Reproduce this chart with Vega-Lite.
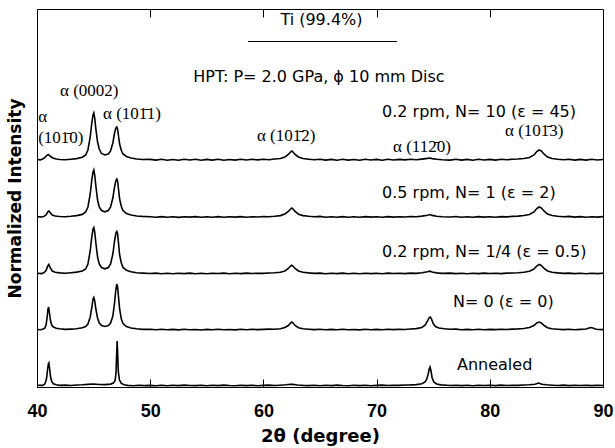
{
  "$schema": "https://vega.github.io/schema/vega-lite/v6.json",
  "width": 566,
  "height": 378,
  "autosize": "none",
  "padding": {"left": 37, "top": 9, "right": 12, "bottom": 61},
  "config": {"view": {"stroke": "black", "strokeWidth": 1}, "axis": {"grid": false, "domain": false}},
  "datasets": {
    "tr": [
      {"s":"A","t":40.0,"i":1.8},{"s":"A","t":40.5,"i":1.6},{"s":"A","t":40.65,"i":2.6},{"s":"A","t":40.75,"i":4.5},{"s":"A","t":40.85,"i":9},{"s":"A","t":40.93,"i":17},{"s":"A","t":41.0,"i":23},{"s":"A","t":41.05,"i":24},{"s":"A","t":41.12,"i":18},{"s":"A","t":41.2,"i":10},{"s":"A","t":41.3,"i":5.5},{"s":"A","t":41.45,"i":3.2},{"s":"A","t":41.7,"i":2.2},{"s":"A","t":42.0,"i":1.6},{"s":"A","t":42.5,"i":1.9},{"s":"A","t":43.0,"i":1.5},{"s":"A","t":43.5,"i":2.0},{"s":"A","t":44.0,"i":2.2},{"s":"A","t":44.5,"i":2.6},{"s":"A","t":45.0,"i":3.0},{"s":"A","t":45.5,"i":2.5},{"s":"A","t":46.0,"i":2.4},{"s":"A","t":46.5,"i":2.9},{"s":"A","t":46.75,"i":4.0},{"s":"A","t":46.9,"i":6.5},{"s":"A","t":46.98,"i":14},{"s":"A","t":47.04,"i":34},{"s":"A","t":47.08,"i":46},{"s":"A","t":47.12,"i":36},{"s":"A","t":47.18,"i":16},{"s":"A","t":47.28,"i":7},{"s":"A","t":47.45,"i":3.6},{"s":"A","t":47.7,"i":2.2},{"s":"A","t":48.0,"i":1.6},{"s":"A","t":48.5,"i":1.3},{"s":"A","t":49.0,"i":1.8},{"s":"A","t":49.5,"i":1.4},{"s":"A","t":50.0,"i":1.6},{"s":"A","t":50.5,"i":1.2},{"s":"A","t":51.0,"i":1.7},{"s":"A","t":51.5,"i":1.3},{"s":"A","t":52.0,"i":1.8},{"s":"A","t":52.5,"i":1.4},{"s":"A","t":53.0,"i":1.9},{"s":"A","t":53.5,"i":1.5},{"s":"A","t":54.0,"i":1.4},{"s":"A","t":54.5,"i":1.8},{"s":"A","t":55.0,"i":1.3},{"s":"A","t":55.5,"i":1.7},{"s":"A","t":56.0,"i":1.4},{"s":"A","t":56.5,"i":1.9},{"s":"A","t":57.0,"i":1.5},{"s":"A","t":57.5,"i":1.3},{"s":"A","t":58.0,"i":1.8},{"s":"A","t":58.5,"i":1.4},{"s":"A","t":59.0,"i":1.7},{"s":"A","t":59.5,"i":1.3},{"s":"A","t":60.0,"i":1.6},{"s":"A","t":60.5,"i":1.9},{"s":"A","t":61.0,"i":1.5},{"s":"A","t":61.5,"i":1.8},{"s":"A","t":62.0,"i":2.2},{"s":"A","t":62.4,"i":2.8},{"s":"A","t":62.6,"i":2.6},{"s":"A","t":63.0,"i":2.0},{"s":"A","t":63.5,"i":1.6},{"s":"A","t":64.0,"i":1.4},{"s":"A","t":64.5,"i":1.8},{"s":"A","t":65.0,"i":1.3},{"s":"A","t":65.5,"i":1.7},{"s":"A","t":66.0,"i":1.4},{"s":"A","t":66.5,"i":1.9},{"s":"A","t":67.0,"i":1.5},{"s":"A","t":67.5,"i":1.3},{"s":"A","t":68.0,"i":1.8},{"s":"A","t":68.5,"i":1.4},{"s":"A","t":69.0,"i":1.7},{"s":"A","t":69.5,"i":1.3},{"s":"A","t":70.0,"i":1.6},{"s":"A","t":70.5,"i":1.9},{"s":"A","t":71.0,"i":1.5},{"s":"A","t":71.5,"i":1.8},{"s":"A","t":72.0,"i":1.6},{"s":"A","t":72.5,"i":2.0},{"s":"A","t":73.0,"i":2.1},{"s":"A","t":73.5,"i":2.4},{"s":"A","t":74.0,"i":3.2},{"s":"A","t":74.25,"i":4.8},{"s":"A","t":74.4,"i":7},{"s":"A","t":74.55,"i":12.5},{"s":"A","t":74.65,"i":18},{"s":"A","t":74.72,"i":20},{"s":"A","t":74.8,"i":16.5},{"s":"A","t":74.9,"i":9.5},{"s":"A","t":75.05,"i":5},{"s":"A","t":75.3,"i":3},{"s":"A","t":75.7,"i":2.1},{"s":"A","t":76.2,"i":1.7},{"s":"A","t":76.5,"i":1.5},{"s":"A","t":77.0,"i":1.8},{"s":"A","t":77.5,"i":1.4},{"s":"A","t":78.0,"i":1.7},{"s":"A","t":78.5,"i":1.3},{"s":"A","t":79.0,"i":1.8},{"s":"A","t":79.5,"i":1.5},{"s":"A","t":80.0,"i":1.7},{"s":"A","t":80.5,"i":1.4},{"s":"A","t":81.0,"i":1.9},{"s":"A","t":81.5,"i":1.5},{"s":"A","t":82.0,"i":1.8},{"s":"A","t":82.5,"i":1.6},{"s":"A","t":83.0,"i":2.0},{"s":"A","t":83.5,"i":2.3},{"s":"A","t":84.0,"i":2.8},{"s":"A","t":84.3,"i":4.0},{"s":"A","t":84.6,"i":2.8},{"s":"A","t":85.0,"i":2.2},{"s":"A","t":85.5,"i":1.8},{"s":"A","t":86.0,"i":1.5},{"s":"A","t":86.5,"i":1.9},{"s":"A","t":87.0,"i":1.4},{"s":"A","t":87.5,"i":1.8},{"s":"A","t":88.0,"i":1.5},{"s":"A","t":88.5,"i":1.7},{"s":"A","t":89.0,"i":1.4},{"s":"A","t":89.5,"i":1.8},{"s":"A","t":90.0,"i":1.5},

      {"s":"N0","t":40.0,"i":57.5},{"s":"N0","t":40.3,"i":57.2},{"s":"N0","t":40.5,"i":57.8},{"s":"N0","t":40.7,"i":59},{"s":"N0","t":40.8,"i":62},{"s":"N0","t":40.9,"i":70},{"s":"N0","t":40.97,"i":78},{"s":"N0","t":41.03,"i":80},{"s":"N0","t":41.1,"i":74},{"s":"N0","t":41.2,"i":66},{"s":"N0","t":41.3,"i":62},{"s":"N0","t":41.45,"i":60},{"s":"N0","t":41.7,"i":58.7},{"s":"N0","t":42.0,"i":58.2},{"s":"N0","t":42.5,"i":57.6},{"s":"N0","t":43.0,"i":57.9},{"s":"N0","t":43.5,"i":58.3},{"s":"N0","t":44.0,"i":59.2},{"s":"N0","t":44.3,"i":60.5},{"s":"N0","t":44.5,"i":63},{"s":"N0","t":44.7,"i":70},{"s":"N0","t":44.85,"i":80},{"s":"N0","t":44.95,"i":88},{"s":"N0","t":45.02,"i":89.5},{"s":"N0","t":45.1,"i":86},{"s":"N0","t":45.2,"i":78},{"s":"N0","t":45.35,"i":69},{"s":"N0","t":45.5,"i":64},{"s":"N0","t":45.7,"i":61.5},{"s":"N0","t":46.0,"i":60.5},{"s":"N0","t":46.3,"i":61.5},{"s":"N0","t":46.5,"i":64},{"s":"N0","t":46.7,"i":71},{"s":"N0","t":46.85,"i":84},{"s":"N0","t":46.97,"i":98},{"s":"N0","t":47.05,"i":103},{"s":"N0","t":47.12,"i":100},{"s":"N0","t":47.2,"i":90},{"s":"N0","t":47.3,"i":78},{"s":"N0","t":47.45,"i":68},{"s":"N0","t":47.6,"i":63.5},{"s":"N0","t":47.9,"i":60.5},{"s":"N0","t":48.3,"i":59},{"s":"N0","t":48.8,"i":58.2},{"s":"N0","t":49.3,"i":57.6},{"s":"N0","t":50.0,"i":57.8},{"s":"N0","t":50.5,"i":57.3},{"s":"N0","t":51.0,"i":57.7},{"s":"N0","t":51.5,"i":57.2},{"s":"N0","t":52.0,"i":57.6},{"s":"N0","t":52.5,"i":57.1},{"s":"N0","t":53.0,"i":57.8},{"s":"N0","t":53.5,"i":57.3},{"s":"N0","t":54.0,"i":57.5},{"s":"N0","t":54.5,"i":57.0},{"s":"N0","t":55.0,"i":57.6},{"s":"N0","t":55.5,"i":57.2},{"s":"N0","t":56.0,"i":57.8},{"s":"N0","t":56.5,"i":57.3},{"s":"N0","t":57.0,"i":57.5},{"s":"N0","t":57.5,"i":57.1},{"s":"N0","t":58.0,"i":57.7},{"s":"N0","t":58.5,"i":57.3},{"s":"N0","t":59.0,"i":57.8},{"s":"N0","t":59.5,"i":57.4},{"s":"N0","t":60.0,"i":57.6},{"s":"N0","t":60.5,"i":57.9},{"s":"N0","t":61.0,"i":57.8},{"s":"N0","t":61.5,"i":58.3},{"s":"N0","t":61.9,"i":59.5},{"s":"N0","t":62.2,"i":61.5},{"s":"N0","t":62.4,"i":64},{"s":"N0","t":62.5,"i":65},{"s":"N0","t":62.6,"i":64.2},{"s":"N0","t":62.8,"i":61.5},{"s":"N0","t":63.1,"i":59.3},{"s":"N0","t":63.5,"i":58.3},{"s":"N0","t":64.0,"i":57.8},{"s":"N0","t":64.5,"i":57.4},{"s":"N0","t":65.0,"i":57.7},{"s":"N0","t":65.5,"i":57.2},{"s":"N0","t":66.0,"i":57.6},{"s":"N0","t":66.5,"i":57.3},{"s":"N0","t":67.0,"i":57.8},{"s":"N0","t":67.5,"i":57.2},{"s":"N0","t":68.0,"i":57.5},{"s":"N0","t":68.5,"i":57.1},{"s":"N0","t":69.0,"i":57.7},{"s":"N0","t":69.5,"i":57.3},{"s":"N0","t":70.0,"i":57.6},{"s":"N0","t":70.5,"i":57.2},{"s":"N0","t":71.0,"i":57.8},{"s":"N0","t":71.5,"i":57.4},{"s":"N0","t":72.0,"i":57.7},{"s":"N0","t":72.5,"i":57.5},{"s":"N0","t":73.0,"i":58.0},{"s":"N0","t":73.5,"i":58.4},{"s":"N0","t":74.0,"i":59.5},{"s":"N0","t":74.3,"i":62},{"s":"N0","t":74.5,"i":66},{"s":"N0","t":74.65,"i":69.5},{"s":"N0","t":74.75,"i":70},{"s":"N0","t":74.85,"i":68},{"s":"N0","t":75.0,"i":63.5},{"s":"N0","t":75.2,"i":60.5},{"s":"N0","t":75.5,"i":59},{"s":"N0","t":76.0,"i":58.2},{"s":"N0","t":76.5,"i":57.7},{"s":"N0","t":77.0,"i":57.9},{"s":"N0","t":77.5,"i":57.3},{"s":"N0","t":78.0,"i":57.6},{"s":"N0","t":78.5,"i":57.2},{"s":"N0","t":79.0,"i":57.7},{"s":"N0","t":79.5,"i":57.3},{"s":"N0","t":80.0,"i":57.6},{"s":"N0","t":80.5,"i":57.4},{"s":"N0","t":81.0,"i":57.8},{"s":"N0","t":81.5,"i":57.5},{"s":"N0","t":82.0,"i":57.9},{"s":"N0","t":82.5,"i":58.1},{"s":"N0","t":83.0,"i":58.5},{"s":"N0","t":83.5,"i":59.4},{"s":"N0","t":83.9,"i":61.5},{"s":"N0","t":84.15,"i":64},{"s":"N0","t":84.35,"i":65},{"s":"N0","t":84.55,"i":64},{"s":"N0","t":84.8,"i":61.5},{"s":"N0","t":85.1,"i":59.3},{"s":"N0","t":85.5,"i":58.3},{"s":"N0","t":86.0,"i":57.8},{"s":"N0","t":86.5,"i":57.4},{"s":"N0","t":87.0,"i":57.7},{"s":"N0","t":87.5,"i":57.3},{"s":"N0","t":88.0,"i":57.6},{"s":"N0","t":88.5,"i":58},{"s":"N0","t":88.9,"i":59.5},{"s":"N0","t":89.1,"i":59},{"s":"N0","t":89.4,"i":57.7},{"s":"N0","t":90.0,"i":57.4},

      {"s":"Q","t":40.0,"i":113.8},{"s":"Q","t":40.4,"i":113.4},{"s":"Q","t":40.6,"i":114.3},{"s":"Q","t":40.8,"i":116.5},{"s":"Q","t":40.95,"i":121},{"s":"Q","t":41.05,"i":122.5},{"s":"Q","t":41.15,"i":119.5},{"s":"Q","t":41.35,"i":116},{"s":"Q","t":41.6,"i":114.8},{"s":"Q","t":42.0,"i":114.1},{"s":"Q","t":42.5,"i":113.7},{"s":"Q","t":43.0,"i":114.3},{"s":"Q","t":43.5,"i":114.9},{"s":"Q","t":44.0,"i":116},{"s":"Q","t":44.3,"i":118},{"s":"Q","t":44.5,"i":123},{"s":"Q","t":44.7,"i":136},{"s":"Q","t":44.85,"i":151},{"s":"Q","t":44.95,"i":158},{"s":"Q","t":45.02,"i":159.5},{"s":"Q","t":45.1,"i":155},{"s":"Q","t":45.2,"i":144},{"s":"Q","t":45.35,"i":130},{"s":"Q","t":45.5,"i":123},{"s":"Q","t":45.7,"i":119.5},{"s":"Q","t":46.0,"i":118.2},{"s":"Q","t":46.3,"i":119.5},{"s":"Q","t":46.5,"i":123},{"s":"Q","t":46.7,"i":133},{"s":"Q","t":46.85,"i":146},{"s":"Q","t":46.97,"i":154},{"s":"Q","t":47.05,"i":155.5},{"s":"Q","t":47.12,"i":153},{"s":"Q","t":47.2,"i":144},{"s":"Q","t":47.3,"i":132},{"s":"Q","t":47.45,"i":124},{"s":"Q","t":47.6,"i":119.5},{"s":"Q","t":47.9,"i":116.8},{"s":"Q","t":48.3,"i":115.2},{"s":"Q","t":48.8,"i":114.3},{"s":"Q","t":49.3,"i":113.9},{"s":"Q","t":50.0,"i":113.5},{"s":"Q","t":50.5,"i":113.9},{"s":"Q","t":51.0,"i":113.3},{"s":"Q","t":51.5,"i":113.8},{"s":"Q","t":52.0,"i":113.2},{"s":"Q","t":52.5,"i":113.7},{"s":"Q","t":53.0,"i":113.4},{"s":"Q","t":53.5,"i":113.9},{"s":"Q","t":54.0,"i":113.3},{"s":"Q","t":54.5,"i":113.8},{"s":"Q","t":55.0,"i":113.2},{"s":"Q","t":55.5,"i":113.7},{"s":"Q","t":56.0,"i":113.5},{"s":"Q","t":56.5,"i":113.9},{"s":"Q","t":57.0,"i":113.3},{"s":"Q","t":57.5,"i":113.8},{"s":"Q","t":58.0,"i":113.4},{"s":"Q","t":58.5,"i":113.9},{"s":"Q","t":59.0,"i":113.5},{"s":"Q","t":59.5,"i":113.8},{"s":"Q","t":60.0,"i":113.6},{"s":"Q","t":60.5,"i":114.0},{"s":"Q","t":61.0,"i":114.2},{"s":"Q","t":61.5,"i":114.7},{"s":"Q","t":61.9,"i":116},{"s":"Q","t":62.2,"i":118.5},{"s":"Q","t":62.4,"i":121},{"s":"Q","t":62.5,"i":121.8},{"s":"Q","t":62.6,"i":121},{"s":"Q","t":62.8,"i":118.5},{"s":"Q","t":63.1,"i":116},{"s":"Q","t":63.5,"i":114.8},{"s":"Q","t":64.0,"i":114.1},{"s":"Q","t":64.5,"i":113.6},{"s":"Q","t":65.0,"i":113.9},{"s":"Q","t":65.5,"i":113.3},{"s":"Q","t":66.0,"i":113.8},{"s":"Q","t":66.5,"i":113.4},{"s":"Q","t":67.0,"i":113.9},{"s":"Q","t":67.5,"i":113.3},{"s":"Q","t":68.0,"i":113.7},{"s":"Q","t":68.5,"i":113.2},{"s":"Q","t":69.0,"i":113.8},{"s":"Q","t":69.5,"i":113.4},{"s":"Q","t":70.0,"i":113.7},{"s":"Q","t":70.5,"i":113.3},{"s":"Q","t":71.0,"i":113.9},{"s":"Q","t":71.5,"i":113.5},{"s":"Q","t":72.0,"i":113.8},{"s":"Q","t":72.5,"i":113.4},{"s":"Q","t":73.0,"i":113.9},{"s":"Q","t":73.5,"i":113.6},{"s":"Q","t":74.0,"i":114.2},{"s":"Q","t":74.5,"i":115.2},{"s":"Q","t":74.7,"i":115.8},{"s":"Q","t":74.9,"i":115.0},{"s":"Q","t":75.3,"i":114.1},{"s":"Q","t":75.8,"i":113.6},{"s":"Q","t":76.5,"i":113.9},{"s":"Q","t":77.0,"i":113.4},{"s":"Q","t":77.5,"i":113.8},{"s":"Q","t":78.0,"i":113.3},{"s":"Q","t":78.5,"i":113.7},{"s":"Q","t":79.0,"i":113.4},{"s":"Q","t":79.5,"i":113.9},{"s":"Q","t":80.0,"i":113.5},{"s":"Q","t":80.5,"i":113.8},{"s":"Q","t":81.0,"i":113.4},{"s":"Q","t":81.5,"i":113.9},{"s":"Q","t":82.0,"i":114.0},{"s":"Q","t":82.5,"i":114.3},{"s":"Q","t":83.0,"i":114.8},{"s":"Q","t":83.5,"i":115.8},{"s":"Q","t":83.9,"i":118},{"s":"Q","t":84.15,"i":121},{"s":"Q","t":84.35,"i":122.5},{"s":"Q","t":84.55,"i":121.5},{"s":"Q","t":84.8,"i":118.5},{"s":"Q","t":85.1,"i":116},{"s":"Q","t":85.5,"i":114.8},{"s":"Q","t":86.0,"i":114.1},{"s":"Q","t":86.5,"i":113.6},{"s":"Q","t":87.0,"i":113.9},{"s":"Q","t":87.5,"i":113.4},{"s":"Q","t":88.0,"i":113.8},{"s":"Q","t":88.5,"i":113.3},{"s":"Q","t":89.0,"i":113.7},{"s":"Q","t":89.5,"i":113.4},{"s":"Q","t":90.0,"i":113.8},

      {"s":"N1","t":40.0,"i":170.4},{"s":"N1","t":40.4,"i":170.0},{"s":"N1","t":40.6,"i":170.6},{"s":"N1","t":40.8,"i":172},{"s":"N1","t":40.95,"i":175},{"s":"N1","t":41.05,"i":176},{"s":"N1","t":41.15,"i":174.5},{"s":"N1","t":41.35,"i":172},{"s":"N1","t":41.6,"i":171},{"s":"N1","t":42.0,"i":170.5},{"s":"N1","t":42.5,"i":170.2},{"s":"N1","t":43.0,"i":170.7},{"s":"N1","t":43.5,"i":171.4},{"s":"N1","t":44.0,"i":172.6},{"s":"N1","t":44.3,"i":175},{"s":"N1","t":44.5,"i":180},{"s":"N1","t":44.7,"i":193},{"s":"N1","t":44.85,"i":208},{"s":"N1","t":44.95,"i":215},{"s":"N1","t":45.02,"i":217},{"s":"N1","t":45.1,"i":212},{"s":"N1","t":45.2,"i":201},{"s":"N1","t":45.35,"i":187},{"s":"N1","t":45.5,"i":180},{"s":"N1","t":45.7,"i":176.5},{"s":"N1","t":46.0,"i":175.2},{"s":"N1","t":46.3,"i":176.5},{"s":"N1","t":46.5,"i":180},{"s":"N1","t":46.7,"i":189},{"s":"N1","t":46.85,"i":200},{"s":"N1","t":46.97,"i":206.5},{"s":"N1","t":47.05,"i":208},{"s":"N1","t":47.12,"i":206},{"s":"N1","t":47.2,"i":198},{"s":"N1","t":47.3,"i":188},{"s":"N1","t":47.45,"i":180.5},{"s":"N1","t":47.6,"i":176.5},{"s":"N1","t":47.9,"i":173.5},{"s":"N1","t":48.3,"i":172},{"s":"N1","t":48.8,"i":171},{"s":"N1","t":49.3,"i":170.6},{"s":"N1","t":50.0,"i":170.3},{"s":"N1","t":50.5,"i":169.8},{"s":"N1","t":51.0,"i":170.4},{"s":"N1","t":51.5,"i":169.7},{"s":"N1","t":52.0,"i":170.2},{"s":"N1","t":52.5,"i":169.6},{"s":"N1","t":53.0,"i":170.3},{"s":"N1","t":53.5,"i":169.9},{"s":"N1","t":54.0,"i":170.4},{"s":"N1","t":54.5,"i":169.7},{"s":"N1","t":55.0,"i":170.2},{"s":"N1","t":55.5,"i":169.8},{"s":"N1","t":56.0,"i":170.4},{"s":"N1","t":56.5,"i":169.7},{"s":"N1","t":57.0,"i":170.3},{"s":"N1","t":57.5,"i":169.9},{"s":"N1","t":58.0,"i":170.4},{"s":"N1","t":58.5,"i":169.8},{"s":"N1","t":59.0,"i":170.3},{"s":"N1","t":59.5,"i":170.0},{"s":"N1","t":60.0,"i":170.5},{"s":"N1","t":60.5,"i":170.2},{"s":"N1","t":61.0,"i":170.7},{"s":"N1","t":61.5,"i":171.4},{"s":"N1","t":61.9,"i":173},{"s":"N1","t":62.2,"i":175.5},{"s":"N1","t":62.4,"i":178},{"s":"N1","t":62.5,"i":179},{"s":"N1","t":62.6,"i":178.2},{"s":"N1","t":62.8,"i":175.5},{"s":"N1","t":63.1,"i":172.8},{"s":"N1","t":63.5,"i":171.4},{"s":"N1","t":64.0,"i":170.7},{"s":"N1","t":64.5,"i":170.2},{"s":"N1","t":65.0,"i":170.6},{"s":"N1","t":65.5,"i":169.8},{"s":"N1","t":66.0,"i":170.3},{"s":"N1","t":66.5,"i":169.7},{"s":"N1","t":67.0,"i":170.4},{"s":"N1","t":67.5,"i":169.8},{"s":"N1","t":68.0,"i":170.2},{"s":"N1","t":68.5,"i":169.7},{"s":"N1","t":69.0,"i":170.4},{"s":"N1","t":69.5,"i":169.9},{"s":"N1","t":70.0,"i":170.3},{"s":"N1","t":70.5,"i":169.7},{"s":"N1","t":71.0,"i":170.4},{"s":"N1","t":71.5,"i":169.9},{"s":"N1","t":72.0,"i":170.3},{"s":"N1","t":72.5,"i":170.0},{"s":"N1","t":73.0,"i":170.5},{"s":"N1","t":73.5,"i":170.3},{"s":"N1","t":74.0,"i":170.9},{"s":"N1","t":74.5,"i":171.8},{"s":"N1","t":74.7,"i":172.4},{"s":"N1","t":74.9,"i":171.6},{"s":"N1","t":75.3,"i":170.7},{"s":"N1","t":75.8,"i":170.3},{"s":"N1","t":76.5,"i":170.0},{"s":"N1","t":77.0,"i":170.5},{"s":"N1","t":77.5,"i":169.8},{"s":"N1","t":78.0,"i":170.3},{"s":"N1","t":78.5,"i":169.7},{"s":"N1","t":79.0,"i":170.4},{"s":"N1","t":79.5,"i":169.9},{"s":"N1","t":80.0,"i":170.3},{"s":"N1","t":80.5,"i":169.8},{"s":"N1","t":81.0,"i":170.4},{"s":"N1","t":81.5,"i":170.1},{"s":"N1","t":82.0,"i":170.6},{"s":"N1","t":82.5,"i":170.9},{"s":"N1","t":83.0,"i":171.5},{"s":"N1","t":83.5,"i":172.5},{"s":"N1","t":83.9,"i":175},{"s":"N1","t":84.15,"i":178.5},{"s":"N1","t":84.35,"i":180},{"s":"N1","t":84.55,"i":179},{"s":"N1","t":84.8,"i":175.8},{"s":"N1","t":85.1,"i":173},{"s":"N1","t":85.5,"i":171.5},{"s":"N1","t":86.0,"i":170.8},{"s":"N1","t":86.5,"i":170.3},{"s":"N1","t":87.0,"i":170.6},{"s":"N1","t":87.5,"i":169.9},{"s":"N1","t":88.0,"i":170.4},{"s":"N1","t":88.5,"i":169.8},{"s":"N1","t":89.0,"i":170.3},{"s":"N1","t":89.5,"i":169.9},{"s":"N1","t":90.0,"i":170.4},

      {"s":"N10","t":40.0,"i":227.5},{"s":"N10","t":40.3,"i":227.1},{"s":"N10","t":40.5,"i":228},{"s":"N10","t":40.7,"i":229.5},{"s":"N10","t":40.85,"i":231.5},{"s":"N10","t":41.0,"i":232.5},{"s":"N10","t":41.15,"i":231},{"s":"N10","t":41.4,"i":229},{"s":"N10","t":41.7,"i":228},{"s":"N10","t":42.0,"i":227.5},{"s":"N10","t":42.5,"i":227.2},{"s":"N10","t":43.0,"i":227.8},{"s":"N10","t":43.5,"i":228.4},{"s":"N10","t":44.0,"i":229.8},{"s":"N10","t":44.3,"i":232},{"s":"N10","t":44.5,"i":237},{"s":"N10","t":44.7,"i":250},{"s":"N10","t":44.85,"i":265},{"s":"N10","t":44.95,"i":272},{"s":"N10","t":45.02,"i":274},{"s":"N10","t":45.1,"i":269},{"s":"N10","t":45.2,"i":258},{"s":"N10","t":45.35,"i":245},{"s":"N10","t":45.5,"i":238},{"s":"N10","t":45.7,"i":233.5},{"s":"N10","t":46.0,"i":232},{"s":"N10","t":46.3,"i":233},{"s":"N10","t":46.5,"i":236},{"s":"N10","t":46.7,"i":244},{"s":"N10","t":46.85,"i":254},{"s":"N10","t":46.97,"i":259},{"s":"N10","t":47.05,"i":260},{"s":"N10","t":47.12,"i":258},{"s":"N10","t":47.2,"i":251},{"s":"N10","t":47.3,"i":243},{"s":"N10","t":47.45,"i":236.5},{"s":"N10","t":47.6,"i":233},{"s":"N10","t":47.9,"i":230.5},{"s":"N10","t":48.3,"i":229},{"s":"N10","t":48.8,"i":228},{"s":"N10","t":49.3,"i":227.5},{"s":"N10","t":50.0,"i":227.6},{"s":"N10","t":50.5,"i":226.9},{"s":"N10","t":51.0,"i":227.8},{"s":"N10","t":51.5,"i":226.8},{"s":"N10","t":52.0,"i":227.5},{"s":"N10","t":52.5,"i":226.7},{"s":"N10","t":53.0,"i":227.7},{"s":"N10","t":53.5,"i":227.0},{"s":"N10","t":54.0,"i":227.8},{"s":"N10","t":54.5,"i":226.8},{"s":"N10","t":55.0,"i":227.6},{"s":"N10","t":55.5,"i":226.9},{"s":"N10","t":56.0,"i":227.8},{"s":"N10","t":56.5,"i":226.8},{"s":"N10","t":57.0,"i":227.5},{"s":"N10","t":57.5,"i":226.9},{"s":"N10","t":58.0,"i":227.7},{"s":"N10","t":58.5,"i":227.0},{"s":"N10","t":59.0,"i":227.8},{"s":"N10","t":59.5,"i":227.1},{"s":"N10","t":60.0,"i":227.8},{"s":"N10","t":60.5,"i":227.3},{"s":"N10","t":61.0,"i":228.0},{"s":"N10","t":61.5,"i":228.5},{"s":"N10","t":61.9,"i":230},{"s":"N10","t":62.2,"i":232.5},{"s":"N10","t":62.4,"i":235},{"s":"N10","t":62.5,"i":236},{"s":"N10","t":62.6,"i":235.2},{"s":"N10","t":62.8,"i":232.5},{"s":"N10","t":63.1,"i":230},{"s":"N10","t":63.5,"i":228.5},{"s":"N10","t":64.0,"i":227.8},{"s":"N10","t":64.5,"i":227.2},{"s":"N10","t":65.0,"i":227.8},{"s":"N10","t":65.5,"i":226.9},{"s":"N10","t":66.0,"i":227.6},{"s":"N10","t":66.5,"i":226.8},{"s":"N10","t":67.0,"i":227.7},{"s":"N10","t":67.5,"i":226.9},{"s":"N10","t":68.0,"i":227.5},{"s":"N10","t":68.5,"i":226.8},{"s":"N10","t":69.0,"i":227.7},{"s":"N10","t":69.5,"i":227.0},{"s":"N10","t":70.0,"i":227.6},{"s":"N10","t":70.5,"i":226.8},{"s":"N10","t":71.0,"i":227.7},{"s":"N10","t":71.5,"i":227.0},{"s":"N10","t":72.0,"i":227.6},{"s":"N10","t":72.5,"i":227.1},{"s":"N10","t":73.0,"i":227.7},{"s":"N10","t":73.5,"i":227.3},{"s":"N10","t":74.0,"i":227.9},{"s":"N10","t":74.5,"i":228.6},{"s":"N10","t":74.7,"i":229},{"s":"N10","t":74.9,"i":228.4},{"s":"N10","t":75.3,"i":227.7},{"s":"N10","t":75.8,"i":227.2},{"s":"N10","t":76.5,"i":226.9},{"s":"N10","t":77.0,"i":227.7},{"s":"N10","t":77.5,"i":226.9},{"s":"N10","t":78.0,"i":227.6},{"s":"N10","t":78.5,"i":226.8},{"s":"N10","t":79.0,"i":227.7},{"s":"N10","t":79.5,"i":227.0},{"s":"N10","t":80.0,"i":227.6},{"s":"N10","t":80.5,"i":226.9},{"s":"N10","t":81.0,"i":227.7},{"s":"N10","t":81.5,"i":227.2},{"s":"N10","t":82.0,"i":227.8},{"s":"N10","t":82.5,"i":228.0},{"s":"N10","t":83.0,"i":228.5},{"s":"N10","t":83.5,"i":229.5},{"s":"N10","t":83.9,"i":232},{"s":"N10","t":84.15,"i":235.5},{"s":"N10","t":84.35,"i":237},{"s":"N10","t":84.55,"i":236},{"s":"N10","t":84.8,"i":232.8},{"s":"N10","t":85.1,"i":230},{"s":"N10","t":85.5,"i":228.5},{"s":"N10","t":86.0,"i":227.8},{"s":"N10","t":86.5,"i":227.3},{"s":"N10","t":87.0,"i":227.8},{"s":"N10","t":87.5,"i":226.9},{"s":"N10","t":88.0,"i":227.6},{"s":"N10","t":88.5,"i":226.9},{"s":"N10","t":89.0,"i":227.7},{"s":"N10","t":89.5,"i":227.0},{"s":"N10","t":90.0,"i":227.5}
    ],
    "ul": [{"t": 58.64, "t2": 71.8, "i": 345.5}],
    "sans": [
      {"t": 61.5, "i": 367, "txt": "Ti (99.4%)"},
      {"t": 53.8, "i": 310, "txt": "HPT: P= 2.0 GPa, ϕ 10 mm Disc"},
      {"t": 70.48, "i": 275, "txt": "0.2 rpm, N= 10 (ε = 45)"},
      {"t": 70.48, "i": 194, "txt": "0.5 rpm, N= 1 (ε = 2)"},
      {"t": 70.48, "i": 135, "txt": "0.2 rpm, N= 1/4 (ε = 0.5)"},
      {"t": 76.75, "i": 85, "txt": "N= 0 (ε = 0)"},
      {"t": 77.1, "i": 22, "txt": "Annealed"}
    ],
    "serif": [
      {"t": 42.03, "i": 296, "txt": "α (0002)"},
      {"t": 40.1, "i": 270, "txt": "α"},
      {"t": 40.1, "i": 249, "txt": "(101\u03040)"},
      {"t": 45.83, "i": 273, "txt": "α (101\u03041)"},
      {"t": 59.43, "i": 251, "txt": "α (101\u03042)"},
      {"t": 71.45, "i": 240, "txt": "α (112\u03040)"},
      {"t": 81.34, "i": 256, "txt": "α (101\u03043)"}
    ]
  },
  "encoding": {
    "y": {"field": "i", "type": "quantitative", "scale": {"domain": [0, 378], "nice": false, "zero": false},
      "axis": {"title": "Normalized Intensity", "ticks": false, "labels": false, "titleFont": "DejaVu Sans", "titleFontWeight": "bold", "titleFontSize": 17, "titleColor": "black", "titlePadding": 13}}
  },
  "layer": [
    {
      "data": {"name": "tr"},
      "mark": {"type": "line", "color": "black", "strokeWidth": 1.6, "interpolate": "linear"},
      "encoding": {
        "x": {"field": "t", "type": "quantitative", "scale": {"domain": [40, 90], "nice": false, "zero": false},
          "axis": {"orient": "bottom", "values": [40, 50, 60, 70, 80, 90], "tickSize": -8, "tickColor": "black", "tickWidth": 1,
            "labelFont": "Liberation Sans", "labelFontWeight": "bold", "labelFontSize": 18, "labelColor": "black", "labelPadding": 23, "labelFlush": false,
            "title": "2θ (degree)", "titleFont": "DejaVu Sans", "titleFontWeight": "bold", "titleFontSize": 18, "titleColor": "black", "titlePadding": 7}},
        "detail": {"field": "s"}
      }
    },
    {
      "data": {"name": "ul"},
      "mark": {"type": "rule", "color": "black", "strokeWidth": 1},
      "encoding": {
        "x": {"field": "t", "type": "quantitative", "axis": null},
        "x2": {"field": "t2"}
      }
    },
    {
      "data": {"name": "sans"},
      "mark": {"type": "text", "align": "left", "baseline": "middle", "font": "DejaVu Sans", "fontSize": 16, "color": "black"},
      "encoding": {
        "x": {"field": "t", "type": "quantitative",
          "axis": {"orient": "top", "values": [50, 60, 70, 80], "tickSize": -8, "tickColor": "black", "labels": false, "title": null}},
        "text": {"field": "txt"}
      }
    },
    {
      "data": {"name": "serif"},
      "mark": {"type": "text", "align": "left", "baseline": "middle", "font": "Liberation Serif", "fontSize": 17, "color": "black"},
      "encoding": {
        "x": {"field": "t", "type": "quantitative", "axis": null},
        "text": {"field": "txt"}
      }
    }
  ],
  "resolve": {"axis": {"x": "independent"}}
}
